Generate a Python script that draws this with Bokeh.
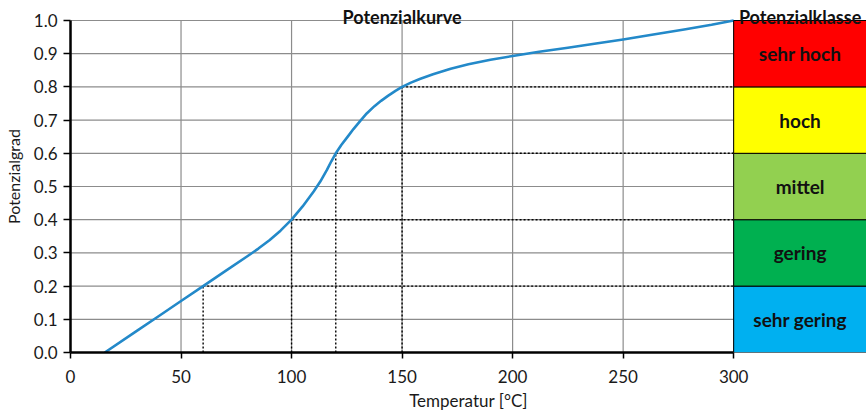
from bokeh.plotting import figure
from bokeh.models import Range1d, FixedTicker, NumeralTickFormatter, ColumnDataSource
from bokeh.core.properties import value
from bokeh.embed import file_html
from bokeh.resources import INLINE

# ---- data ----
temperature = [15.5, 30, 40, 50, 60, 70, 80, 85, 90, 95, 100, 105, 110, 113, 116, 118,
               120, 122.5, 125.5, 128, 131, 134, 137.5, 140.5, 143.6, 147, 150, 154,
               158, 164, 172, 180, 190, 200, 212, 225, 237, 250, 263, 277.6, 290, 300]
potential = [0.0, 0.065, 0.11, 0.155, 0.2, 0.245, 0.29, 0.313, 0.338, 0.367, 0.4, 0.44,
             0.485, 0.515, 0.55, 0.576, 0.6, 0.625, 0.651, 0.673, 0.697, 0.72, 0.742,
             0.758, 0.773, 0.788, 0.8, 0.813, 0.824, 0.838, 0.855, 0.868, 0.882, 0.893,
             0.906, 0.918, 0.93, 0.943, 0.957, 0.973, 0.987, 1.0]

threshold_temps = [60, 100, 120, 150]
threshold_levels = [0.2, 0.4, 0.6, 0.8]

class_names = ["sehr gering", "gering", "mittel", "hoch", "sehr hoch"]
class_lower = [0.0, 0.2, 0.4, 0.6, 0.8]
class_upper = [0.2, 0.4, 0.6, 0.8, 1.0]
class_colors = ["#00B0F0", "#00B050", "#92D050", "#FFFF00", "#FF0000"]

x_ticks = [0, 50, 100, 150, 200, 250, 300]
y_ticks = [0.0, 0.1, 0.2, 0.3, 0.4, 0.5, 0.6, 0.7, 0.8, 0.9, 1.0]

chart_title = "Potenzialkurve"
panel_title = "Potenzialklasse"
x_label = "Temperatur [°C]"
y_label = "Potenzialgrad"

# ---- layout ----
W, H = 866, 413
left, bottom = 69, 61
x_min, x_max = min(x_ticks), max(x_ticks)
y_min, y_max = min(y_ticks), max(y_ticks)
px_per_x = 664 / 300.0
px_per_y = 332.0
x_end = (W - left) / px_per_x
y_end = y_max + 20 / px_per_y          # room for the titles above the plot area
panel_left, panel_right = x_max, x_end
FONT = "Lato"
GRID = "#8c8c8c"

p = figure(width=W, height=H, output_backend="svg", toolbar_location=None,
           x_range=Range1d(x_min, x_end), y_range=Range1d(y_min, y_end),
           min_border_left=left, min_border_right=0, min_border_top=0,
           min_border_bottom=bottom)
p.outline_line_color = None
p.xgrid.visible = False
p.ygrid.visible = False

# axes
p.xaxis.ticker = FixedTicker(ticks=x_ticks)
p.yaxis.ticker = FixedTicker(ticks=y_ticks)
p.yaxis.formatter = NumeralTickFormatter(format="0.0")
p.xaxis.bounds = (x_min, x_max)
p.yaxis.bounds = (y_min, y_max)
for ax in (p.xaxis, p.yaxis):
    ax.axis_line_color = "black"
    ax.axis_line_width = 2.5
    ax.major_tick_line_color = "black"
    ax.major_tick_line_width = 1.5
    ax.major_tick_in = 0
    ax.minor_tick_line_color = None
    ax.major_label_text_font = FONT
    ax.major_label_text_font_size = "17px"
    ax.major_label_text_color = "#1a1a1a"
    ax.axis_label_text_font = FONT
    ax.axis_label_text_font_style = "normal"
    ax.axis_label_text_color = "#1a1a1a"
p.xaxis.major_tick_out = 6
p.yaxis.major_tick_out = 7
p.xaxis.major_label_standoff = 11
p.yaxis.major_label_standoff = 6
p.xaxis.axis_label = x_label
p.yaxis.axis_label = y_label
p.xaxis.axis_label_text_font_size = "17px"
p.yaxis.axis_label_text_font_size = "16px"
p.xaxis.axis_label_standoff = 4
p.yaxis.axis_label_standoff = 8

# grid lines (limited to the plot area 0..300 / 0..1)
p.segment(x0=x_ticks, y0=[y_min] * len(x_ticks), x1=x_ticks, y1=[y_max] * len(x_ticks),
          line_color=GRID, line_width=1.2)
p.segment(x0=[x_min] * len(y_ticks), y0=y_ticks, x1=[x_max] * len(y_ticks), y1=y_ticks,
          line_color=GRID, line_width=1.2)

# dotted guide lines
p.segment(x0=threshold_temps, y0=[y_min] * len(threshold_temps),
          x1=threshold_temps, y1=threshold_levels,
          line_color="black", line_width=1.4, line_dash="2 2")
p.segment(x0=threshold_temps, y0=threshold_levels,
          x1=[x_max] * len(threshold_temps), y1=threshold_levels,
          line_color="black", line_width=1.4, line_dash="2 2")

# curve
p.line(temperature, potential, line_color="#2389c9", line_width=2.6, line_join="round")

# class panel
src = ColumnDataSource(dict(
    left=[panel_left] * len(class_names), right=[panel_right] * len(class_names),
    bottom=class_lower, top=class_upper, color=class_colors, name=class_names,
    xc=[(panel_left + panel_right) / 2] * len(class_names),
    yc=[(a + b) / 2 for a, b in zip(class_lower, class_upper)],
))
p.quad(left="left", right="right", bottom="bottom", top="top", fill_color="color",
       line_color="black", line_width=1, source=src)
p.text(x="xc", y="yc", text="name", source=src, text_align="center",
       text_baseline="middle", text_font=value(FONT), text_font_style="bold",
       text_font_size="19px", text_color="#111111")

# titles (inside the frame, above y = 1.0)
title_y = y_max + 4 / px_per_y
p.text(x=[(x_min + x_max) / 2, (panel_left + panel_right) / 2], y=[title_y, title_y],
       text=[chart_title, panel_title], text_align="center", text_baseline="alphabetic",
       text_font=value(FONT), text_font_style="bold", text_font_size="18px",
       text_color="#111111")

open("out.html", "w").write(file_html(p, INLINE))
